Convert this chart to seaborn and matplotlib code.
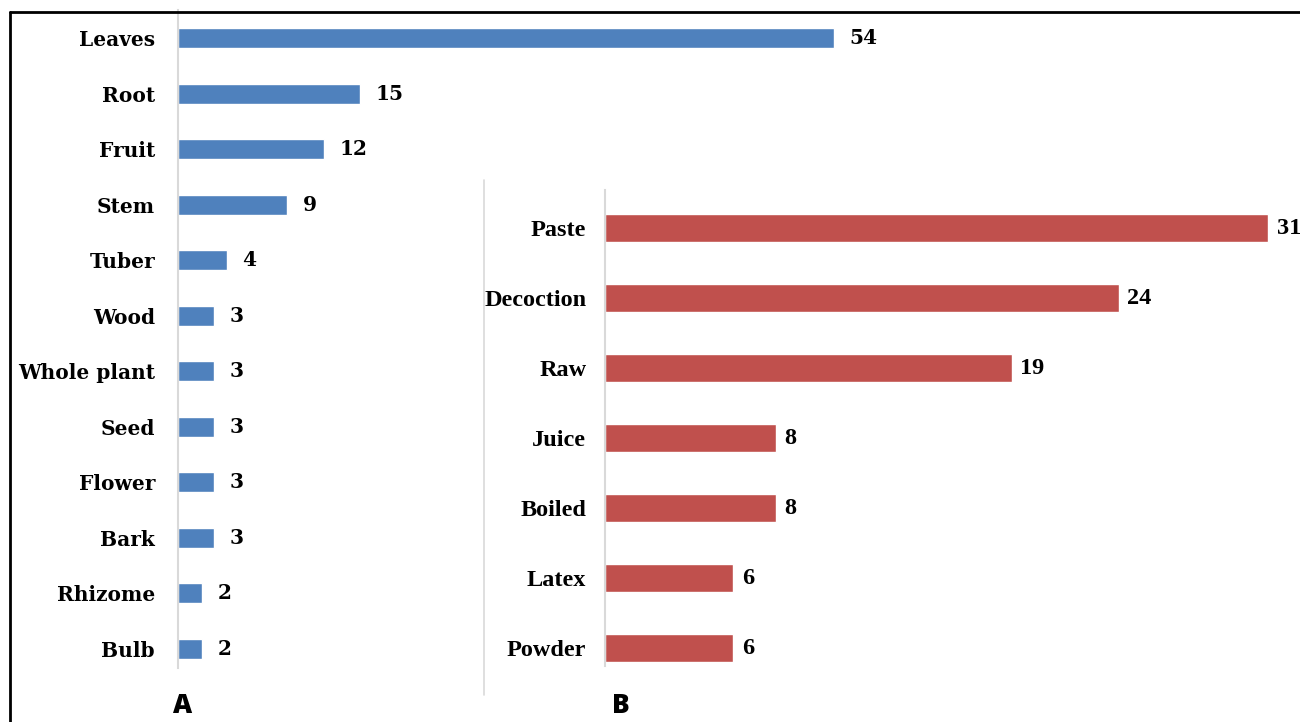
import matplotlib
matplotlib.use("Agg")
import matplotlib.pyplot as plt
import seaborn as sns
import pandas as pd
from matplotlib.lines import Line2D

parts = ["Leaves", "Root", "Fruit", "Stem", "Tuber", "Wood", "Whole plant",
         "Seed", "Flower", "Bark", "Rhizome", "Bulb"]
parts_counts = [54, 15, 12, 9, 4, 3, 3, 3, 3, 3, 2, 2]

preps = ["Paste", "Decoction", "Raw", "Juice", "Boiled", "Latex", "Powder"]
preps_counts = [31, 24, 19, 8, 8, 6, 6]

panel_labels = ["A", "B"]

sns.set_theme(style="white")
W, H = 1300, 722
fig = plt.figure(figsize=(W / 100, H / 100), dpi=100)
fig.patch.set_facecolor("white")

def px_axes(left, top, width, height):
    return fig.add_axes([left / W, (H - top - height) / H, width / W, height / H])

blue = "#4F81BD"
red = "#C0504D"
grid_gray = "#D9D9D9"

# Panel A
axA = px_axes(178, 10.25, 60 * 12.15, 666.5)
dfA = pd.DataFrame({"part": parts, "count": parts_counts})
sns.barplot(data=dfA, y="part", x="count", orient="h", color=blue, width=0.36,
            saturation=1, ax=axA)
axA.set_xlim(0, 60)
axA.set_ylim(11.5, -0.5)
axA.set_xlabel("")
axA.set_ylabel("")
axA.set_xticks([])
for s in ["top", "right", "bottom"]:
    axA.spines[s].set_visible(False)
axA.spines["left"].set_color(grid_gray)
axA.spines["left"].set_linewidth(1.5)
axA.spines["left"].set_bounds(-0.5, 11.35)
axA.tick_params(axis="y", length=0, pad=16.5)
for lab in axA.get_yticklabels():
    lab.set_fontfamily("DejaVu Serif")
    lab.set_fontweight("bold")
    lab.set_fontsize(14.5)
    lab.set_color("black")
for cont in axA.containers:
    axA.bar_label(cont, padding=11, fontsize=14.5, fontweight="bold",
                  family="DejaVu Serif", color="black")
axA.patch.set_alpha(0)

# Panel B
axB = px_axes(605, 193, 32 * 21.4, 490)
dfB = pd.DataFrame({"prep": preps, "count": preps_counts})
sns.barplot(data=dfB, y="prep", x="count", orient="h", color=red, width=0.4,
            saturation=1, ax=axB)
axB.set_xlim(0, 32)
axB.set_ylim(6.5, -0.5)
axB.set_xlabel("")
axB.set_ylabel("")
axB.set_xticks([])
for s in ["top", "right", "bottom"]:
    axB.spines[s].set_visible(False)
axB.spines["left"].set_color(grid_gray)
axB.spines["left"].set_linewidth(1.5)
axB.spines["left"].set_bounds(-0.55, 6.25)
axB.tick_params(axis="y", length=0, pad=13.5)
for lab in axB.get_yticklabels():
    lab.set_fontfamily("Liberation Serif")
    lab.set_fontweight("bold")
    lab.set_fontsize(17.5)
    lab.set_color("black")
for cont in axB.containers:
    axB.bar_label(cont, padding=6, fontsize=17.5, fontweight="bold",
                  family="Liberation Serif", color="black")
axB.patch.set_alpha(0)

# Separator line
fig.add_artist(Line2D([484 / W, 484 / W], [1 - 180 / H, 1 - 695 / H],
                      color=grid_gray, lw=1.2, transform=fig.transFigure))

# Border (top and left)
fig.add_artist(Line2D([10 / W, 1.0], [1 - 12 / H, 1 - 12 / H], color="black",
                      lw=2.0, transform=fig.transFigure))
fig.add_artist(Line2D([10 / W, 10 / W], [1 - 12 / H, 0], color="black",
                      lw=2.0, transform=fig.transFigure))

# Panel letters
fig.text(183 / W, 1 - 706 / H, panel_labels[0], ha="center", va="center",
         fontsize=19, fontweight="heavy", family="Open Sans", color="black")
fig.text(621 / W, 1 - 706 / H, panel_labels[1], ha="center", va="center",
         fontsize=19, fontweight="heavy", family="Open Sans", color="black")

fig.savefig("out.png", dpi=100, facecolor="white")
